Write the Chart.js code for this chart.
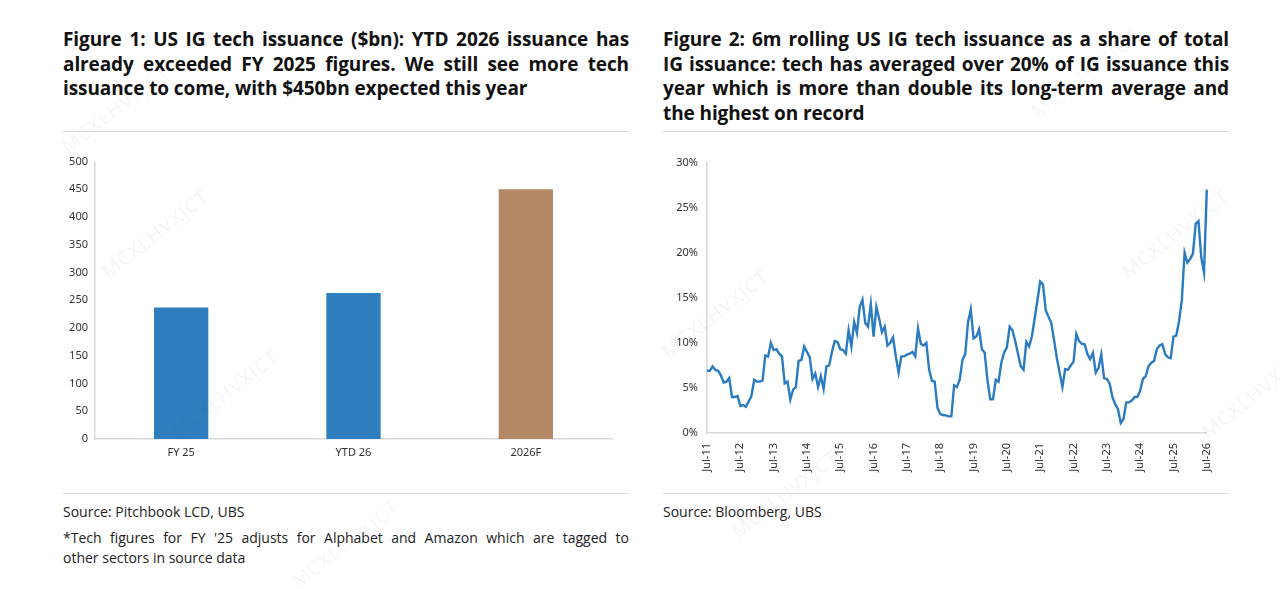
<!DOCTYPE html>
<html>
<head>
<meta charset="utf-8">
<script src="https://cdn.jsdelivr.net/npm/chart.js@4.4.1/dist/chart.umd.min.js"></script>
<style>
  body { margin: 0; background: #fff; width: 1280px; height: 589px; overflow: hidden; position: relative; font-family: "Open Sans", "Noto Sans", sans-serif; color: #111; }
  .title { position: absolute; font-weight: bold; font-size: 19px; line-height: 24.5px; width: 566px; letter-spacing: -0.1px; }
  .title div, .src div { text-align: justify; text-align-last: justify; white-space: nowrap; }
  .title div.last, .src div.last { text-align-last: left; }
  .rule { position: absolute; height: 0; border-top: 1.5px solid #dcdcdc; width: 566px; }
  .src { position: absolute; font-size: 14px; line-height: 20px; color: #222; width: 566px; }
  .box { position: absolute; }
  .wm { position: absolute; font-size: 20px; color: rgba(0,0,0,0.045); transform: rotate(-38deg); pointer-events: none; z-index: 5; letter-spacing: 1px; }
</style>
</head>
<body>
<div class="title" style="left:63px; top:27px;">
  <div>Figure 1: US IG tech issuance ($bn): YTD 2026 issuance has</div>
  <div>already exceeded FY 2025 figures. We still see more tech</div>
  <div class="last">issuance to come, with $450bn expected this year</div>
</div>
<div class="title" style="left:663px; top:27px;">
  <div>Figure 2: 6m rolling US IG tech issuance as a share of total</div>
  <div>IG issuance: tech has averaged over 20% of IG issuance this</div>
  <div>year which is more than double its long-term average and</div>
  <div class="last">the highest on record</div>
</div>
<div class="rule" style="left:63px; top:131px;"></div>
<div class="rule" style="left:663px; top:131px;"></div>

<div class="box" style="left:50px; top:148px; width:575px; height:321px;"><canvas id="barChart"></canvas></div>
<div class="box" style="left:660px; top:147px; width:570px; height:342px;"><canvas id="lineChart"></canvas></div>

<div class="rule" style="left:63px; top:493px;"></div>
<div class="rule" style="left:663px; top:493px;"></div>
<div class="src" style="left:63px; top:502px;"><div class="last">Source: Pitchbook LCD, UBS</div></div>
<div class="src" style="left:63px; top:528px;">
  <div>*Tech figures for FY '25 adjusts for Alphabet and Amazon which are tagged to</div>
  <div class="last">other sectors in source data</div>
</div>
<div class="src" style="left:663px; top:502px;"><div class="last">Source: Bloomberg, UBS</div></div>

<div class="wm" style="left:50px; top:95px;">MCXLHVXJCT</div>
<div class="wm" style="left:90px; top:220px;">MCXLHVXJCT</div>
<div class="wm" style="left:160px; top:380px;">MCXLHVXJCT</div>
<div class="wm" style="left:280px; top:530px;">MCXLHVXJCT</div>
<div class="wm" style="left:650px; top:300px;">MCXLHVXJCT</div>
<div class="wm" style="left:720px; top:480px;">MCXLHVXJCT</div>
<div class="wm" style="left:1020px; top:60px;">MCXLHVXJCT</div>
<div class="wm" style="left:1110px; top:220px;">MCXLHVXJCT</div>
<div class="wm" style="left:1190px; top:380px;">MCXLHVXJCT</div>

<script>
// Figure 1 data
const barCategories = ['FY 25', 'YTD 26', '2026F'];
const barValues = [237, 263, 450];
const barColors = ['#2e7ebf', '#2e7ebf', '#b38865'];

// Figure 2 data: monthly, Jul-11 .. Jul-26 (% share)
const yearTicks = ['Jul-11', 'Jul-12', 'Jul-13', 'Jul-14', 'Jul-15', 'Jul-16', 'Jul-17', 'Jul-18',
                   'Jul-19', 'Jul-20', 'Jul-21', 'Jul-22', 'Jul-23', 'Jul-24', 'Jul-25', 'Jul-26'];
const techShare = [
  6.9, 6.9, 7.4, 7.0, 6.9, 6.4, 5.6, 5.7, 6.1, 4.0,
  4.0, 4.1, 3.0, 3.1, 2.9, 3.5, 4.1, 5.9, 5.7, 5.7,
  5.8, 8.6, 8.5, 10.0, 9.2, 9.3, 8.8, 8.5, 5.5, 5.7,
  3.7, 4.8, 5.1, 8.0, 8.1, 9.6, 9.0, 8.4, 6.0, 6.6,
  5.1, 6.3, 4.9, 7.4, 7.5, 9.0, 10.2, 10.1, 9.3, 9.2,
  8.8, 11.4, 9.6, 12.3, 11.1, 14.0, 14.8, 12.2, 11.8, 14.3,
  10.7, 14.0, 12.7, 11.2, 11.8, 9.7, 10.0, 10.6, 8.5, 6.7,
  8.5, 8.5, 8.7, 8.8, 9.0, 8.5, 11.6, 9.9, 9.7, 10.0,
  7.0, 5.8, 5.7, 2.8, 2.1, 2.0,
  1.95, 1.85, 1.85, 5.3, 5.1, 5.9, 8.1, 8.75, 12.3, 13.7,
  10.5, 10.7, 11.5, 9.3, 8.9, 5.9, 3.75, 3.75, 5.9, 5.7,
  7.8, 8.9, 9.5, 11.8, 11.4, 10.2, 8.8, 7.4, 7.0, 10.1,
  9.6, 10.7, 12.7, 14.7, 16.8, 16.5, 13.6, 12.9, 12.2, 10.3,
  8.3, 6.7, 5.1, 7.1, 7.0, 7.5, 7.9, 11.0, 10.2, 9.9,
  9.85, 8.75, 8.2, 8.9, 6.7, 7.2, 8.75, 6.1, 6.0, 5.5,
  4.0, 3.2, 2.65, 1.1, 1.55, 3.4, 3.4, 3.6, 4.0, 4.0,
  4.7, 6.0, 6.3, 7.4, 7.8, 8.0, 9.3, 9.7, 9.85, 8.75,
  8.4, 8.3, 10.7, 10.8, 12.4, 14.7, 20.0, 18.9, 19.3, 19.9,
  23.2, 23.5, 19.5, 17.8, 27.0
];

// one category per month, only July gets a label
const months = techShare.map((v, i) => (i % 12 === 0 ? yearTicks[i / 12] : ''));

const tickFont = { family: "'Noto Sans', sans-serif", size: 11 };
const tickColor = '#333';
const axisBorder = { color: '#d9d9d9', width: 1.5 };

new Chart(document.getElementById('barChart'), {
    type: 'bar',
    data: {
        labels: barCategories,
        datasets: [{
            data: barValues,
            backgroundColor: barColors,
            borderWidth: 0,
            barPercentage: 0.315,
            categoryPercentage: 1.0
        }]
    },
    options: {
        responsive: true,
        maintainAspectRatio: false,
        animation: false,
        layout: { padding: { top: 9, right: 13 } },
        plugins: { legend: { display: false }, tooltip: { enabled: false } },
        scales: {
            x: {
                grid: { display: false, drawTicks: false },
                border: axisBorder,
                ticks: { font: tickFont, color: tickColor, padding: 7 },
                afterFit: s => { s.height = 30; }
            },
            y: {
                min: 0, max: 500,
                grid: { display: false, drawTicks: false },
                border: axisBorder,
                ticks: { stepSize: 50, font: tickFont, color: tickColor, padding: 7 },
                afterFit: s => { s.width = 45; }
            }
        }
    }
});

new Chart(document.getElementById('lineChart'), {
    type: 'line',
    data: {
        labels: months,
        datasets: [{
            data: techShare,
            borderColor: '#2b7bc1',
            borderWidth: 2.4,
            pointRadius: 0,
            tension: 0,
            fill: false
        }]
    },
    options: {
        responsive: true,
        maintainAspectRatio: false,
        animation: false,
        layout: { padding: { top: 8, right: 18 } },
        plugins: { legend: { display: false }, tooltip: { enabled: false } },
        scales: {
            x: {
                grid: { display: false, drawTicks: false },
                border: axisBorder,
                ticks: {
                    autoSkip: false, minRotation: 90, maxRotation: 90,
                    font: tickFont, color: tickColor, padding: 10
                },
                afterFit: s => { s.height = 56; }
            },
            y: {
                min: 0, max: 30,
                grid: { display: false, drawTicks: false },
                border: axisBorder,
                ticks: {
                    stepSize: 5, font: tickFont, color: tickColor, padding: 9,
                    callback: v => v + '%'
                },
                afterFit: s => { s.width = 47; }
            }
        }
    }
});
</script>
</body>
</html>
